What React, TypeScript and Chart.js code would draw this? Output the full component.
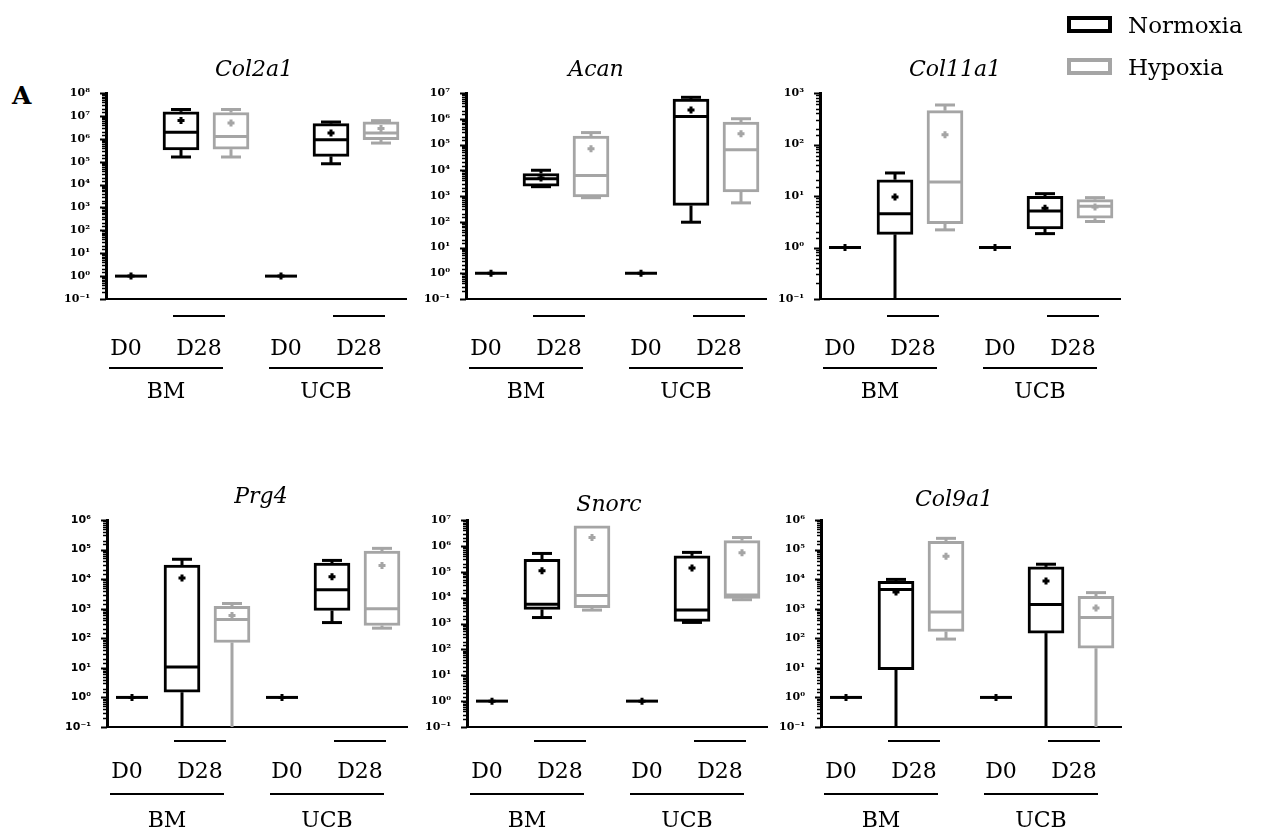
import React, { useEffect, useRef } from "react";
import { Chart, registerables } from "chart.js";

Chart.register(...registerables);

// ---------- categories ----------
const GENES = ["Col2a1", "Acan", "Col11a1", "Prg4", "Snorc", "Col9a1"];
const SOURCES = ["BM", "UCB"];
const DAYS = ["D0", "D28"];
const CONDITIONS = ["Normoxia", "Hypoxia"];
const SLOTS = ["BM D0", "BM D28 Normoxia", "BM D28 Hypoxia", "UCB D0", "UCB D28 Normoxia", "UCB D28 Hypoxia"];
const SLOT_DAY = ["D0", "D28", "D28", "D0", "D28", "D28"];
const SLOT_CONDITION = ["Normoxia", "Normoxia", "Hypoxia", "Normoxia", "Normoxia", "Hypoxia"];
const Y_MIN = 0.1;
const Y_MAX_EXP = [8, 7, 3, 6, 7, 6];

// ---------- values (relative expression) ----------
const col2a1Min = [1, 1.6e5, 1.6e5, 1, 8.1e4, 6.5e5];
const col2a1Q1 = [1, 3.3e5, 3.5e5, 1, 1.7e5, 9.1e5];
const col2a1Med = [1, 1.95e6, 1.26e6, 1, 9.1e5, 1.8e6];
const col2a1Q3 = [1, 1.5e7, 1.4e7, 1, 4.6e6, 5.5e6];
const col2a1Max = [1, 1.9e7, 1.9e7, 1, 5.4e6, 6.2e6];
const col2a1Mean = [1, 6.3e6, 4.9e6, 1, 1.8e6, 2.8e6];

const acanMin = [1, 2.3e3, 8.6e2, 1, 96, 5.4e2];
const acanQ1 = [1, 2.4e3, 9.3e2, 1, 4.3e2, 1.45e3];
const acanMed = [1, 4.7e3, 6.2e3, 1, 1.23e6, 6.2e4];
const acanQ3 = [1, 7.5e3, 2.1e5, 1, 5.8e6, 7.4e5];
const acanMax = [1, 1.0e4, 2.9e5, 1, 6.8e6, 1.0e6];
const acanMean = [1, 5.0e3, 6.9e4, 1, 2.2e6, 2.6e5];

const col11a1Min = [1, 0.1, 2.2, 1, 1.86, 3.2];
const col11a1Q1 = [1, 1.8, 2.9, 1, 2.3, 3.7];
const col11a1Med = [1, 4.5, 18.7, 1, 5.1, 6.3];
const col11a1Q3 = [1, 20.7, 454, 1, 9.9, 8.5];
const col11a1Max = [1, 28, 585, 1, 11.1, 9.3];
const col11a1Mean = [1, 9.6, 155, 1, 5.8, 6.1];

const prg4Min = [1, 0.1, 0.1, 1, 3.4e2, 2.2e2];
const prg4Q1 = [1, 1.5, 72, 1, 8.7e2, 2.7e2];
const prg4Med = [1, 10.7, 4.3e2, 1, 4.4e3, 1.0e3];
const prg4Q3 = [1, 3.0e4, 1.2e3, 1, 3.5e4, 8.9e4];
const prg4Max = [1, 4.7e4, 1.5e3, 1, 4.3e4, 1.1e5];
const prg4Mean = [1, 1.1e4, 5.9e2, 1, 1.2e4, 2.9e4];

const snorcMin = [1, 1.7e3, 3.3e3, 1, 1.1e3, 8.3e3];
const snorcQ1 = [1, 3.5e3, 4.1e3, 1, 1.2e3, 9.3e3];
const snorcMed = [1, 5.6e3, 1.2e4, 1, 3.3e3, 1.26e4];
const snorcQ3 = [1, 3.0e5, 6.0e6, 1, 4.1e5, 1.6e6];
const snorcMax = [1, 5.1e5, 6.0e6, 1, 5.6e5, 2.1e6];
const snorcMean = [1, 1.1e5, 2.1e6, 1, 1.4e5, 5.4e5];

const col9a1Min = [1, 0.1, 94, 1, 0.1, 0.1];
const col9a1Q1 = [1, 8.7, 1.7e2, 1, 1.5e2, 46];
const col9a1Med = [1, 4.5e3, 7.8e2, 1, 1.4e3, 5.0e2];
const col9a1Q3 = [1, 8.5e3, 1.9e5, 1, 2.6e4, 2.6e3];
const col9a1Max = [1, 9.8e3, 2.4e5, 1, 3.2e4, 3.5e3];
const col9a1Mean = [1, 3.7e3, 5.9e4, 1, 8.7e3, 1.05e3];

const STATS = [
  { min: col2a1Min, q1: col2a1Q1, med: col2a1Med, q3: col2a1Q3, max: col2a1Max, mean: col2a1Mean },
  { min: acanMin, q1: acanQ1, med: acanMed, q3: acanQ3, max: acanMax, mean: acanMean },
  { min: col11a1Min, q1: col11a1Q1, med: col11a1Med, q3: col11a1Q3, max: col11a1Max, mean: col11a1Mean },
  { min: prg4Min, q1: prg4Q1, med: prg4Med, q3: prg4Q3, max: prg4Max, mean: prg4Mean },
  { min: snorcMin, q1: snorcQ1, med: snorcMed, q3: snorcQ3, max: snorcMax, mean: snorcMean },
  { min: col9a1Min, q1: col9a1Q1, med: col9a1Med, q3: col9a1Q3, max: col9a1Max, mean: col9a1Mean },
];

// ---------- styling / layout ----------
const BLACK = "#000000";
const GRAY = "#a5a5a5";
const SERIF = '"DejaVu Serif", serif';
const SANS = '"DejaVu Sans", sans-serif';
const CANVAS_W = 370;
const Y_AXIS_W = 60;

const ROW_LAYOUT = [
  { top: 40, height: 370, chartTop: 93, chartBottom: 299, shortLine: 17, dayText: 56, longLine: 69, groupText: 99 },
  { top: 465, height: 371, chartTop: 520, chartBottom: 727, shortLine: 14, dayText: 51, longLine: 67, groupText: 100 },
];
const PANEL_LAYOUT = [
  { row: 0, left: 46, titleDx: -2, titleDy: -17, tickFont: SERIF },
  { row: 0, left: 406, titleDx: -20, titleDy: -17, tickFont: SERIF },
  { row: 0, left: 760, titleDx: -15, titleDy: -17, tickFont: SERIF },
  { row: 1, left: 47, titleDx: 4, titleDy: -17, tickFont: SANS },
  { row: 1, left: 407, titleDx: -8, titleDy: -9, tickFont: SERIF },
  { row: 1, left: 761, titleDx: -17, titleDy: -14, tickFont: SERIF },
];

const SUP: Record<string, string> = {
  "-": "\u207B", "0": "\u2070", "1": "\u00B9", "2": "\u00B2", "3": "\u00B3",
  "4": "\u2074", "5": "\u2075", "6": "\u2076", "7": "\u2077", "8": "\u2078", "9": "\u2079",
};
function powerLabel(v: number): string {
  const e = Math.log10(v);
  const r = Math.round(e);
  if (Math.abs(e - r) > 1e-6) return "";
  return "10" + String(r).split("").map((c) => SUP[c]).join("");
}
function isPower(v: number) {
  const e = Math.log10(v);
  return Math.abs(e - Math.round(e)) < 1e-6;
}

const slotColor = (i: number) => (SLOT_CONDITION[i] === "Hypoxia" ? GRAY : BLACK);

// whiskers, medians and D0 lines drawn through the scales
const boxPlugin = {
  id: "boxWhiskers",
  afterDatasetDraw(chart: any, args: any, opts: any) {
    if (args.index !== 1) return;
    const st = opts.stats;
    const { ctx, chartArea: ca, scales } = chart;
    const x = scales.x, y = scales.y;
    ctx.save();
    ctx.beginPath();
    ctx.rect(ca.left, ca.top - 6, ca.right - ca.left, ca.bottom - ca.top + 6);
    ctx.clip();
    ctx.lineWidth = 3;
    ctx.lineCap = "butt";
    SLOTS.forEach((_, i) => {
      const cx = x.getPixelForValue(i);
      ctx.strokeStyle = slotColor(i);
      const py = (v: number) => y.getPixelForValue(Math.max(v, Y_MIN));
      const seg = (x0: number, y0: number, x1: number, y1: number) => {
        ctx.beginPath();
        ctx.moveTo(x0, y0);
        ctx.lineTo(x1, y1);
        ctx.stroke();
      };
      if (SLOT_DAY[i] === "D0") {
        seg(cx - 16, py(st.med[i]), cx + 16, py(st.med[i]));
        return;
      }
      // upper whisker
      if (st.max[i] > st.q3[i]) {
        seg(cx, py(st.q3[i]), cx, py(st.max[i]));
        seg(cx - 10, py(st.max[i]), cx + 10, py(st.max[i]));
      }
      // lower whisker
      if (st.min[i] < st.q1[i]) {
        seg(cx, py(st.q1[i]), cx, py(st.min[i]));
        if (st.min[i] > Y_MIN) seg(cx - 10, py(st.min[i]), cx + 10, py(st.min[i]));
      }
      // median
      seg(cx - 18, py(st.med[i]), cx + 18, py(st.med[i]));
    });
    ctx.restore();
  },
};

// log axis tick marks (major longer than minor)
const tickPlugin = {
  id: "logTicks",
  afterDraw(chart: any) {
    const { ctx, chartArea: ca, scales } = chart;
    const y = scales.y;
    ctx.save();
    ctx.strokeStyle = BLACK;
    y.ticks.forEach((t: any) => {
      const py = y.getPixelForValue(t.value);
      const major = isPower(t.value);
      ctx.lineWidth = major ? 2 : 1.5;
      ctx.beginPath();
      ctx.moveTo(ca.left - (major ? 6 : 4), Math.round(py) + 0.5);
      ctx.lineTo(ca.left, Math.round(py) + 0.5);
      ctx.stroke();
    });
    ctx.restore();
  },
};

// group labels under the x axis and the gene title
const labelPlugin = {
  id: "groupLabels",
  afterDraw(chart: any, _args: any, opts: any) {
    const { ctx, chartArea: ca, scales } = chart;
    const x = scales.x;
    const r = opts.row;
    ctx.save();
    ctx.fillStyle = BLACK;
    ctx.strokeStyle = BLACK;
    ctx.lineWidth = 2;
    ctx.textAlign = "center";
    ctx.textBaseline = "alphabetic";
    ctx.font = `22px ${SERIF}`;
    const hline = (x0: number, x1: number, yy: number) => {
      ctx.beginPath();
      ctx.moveTo(x0, yy);
      ctx.lineTo(x1, yy);
      ctx.stroke();
    };
    SOURCES.forEach((src, g) => {
      const a = g * 3;
      const s = g === 0 ? -5 : 5;
      const xD0 = x.getPixelForValue(a) + s;
      const xD28 = (x.getPixelForValue(a + 1) + x.getPixelForValue(a + 2)) / 2 + s - 2;
      hline(xD28 - 26, xD28 + 26, ca.bottom + r.shortLine);
      ctx.fillText(DAYS[0], xD0, ca.bottom + r.dayText);
      ctx.fillText(DAYS[1], xD28, ca.bottom + r.dayText);
      const l0 = xD0 - 17;
      const l1 = xD28 + 24;
      hline(l0, l1, ca.bottom + r.longLine);
      ctx.fillText(src, (l0 + l1) / 2, ca.bottom + r.groupText);
    });
    ctx.font = `italic 22px ${SERIF}`;
    ctx.fillText(opts.title, (ca.left + ca.right) / 2 + opts.titleDx, ca.top + opts.titleDy);
    ctx.restore();
  },
};

function Panel({ idx }: { idx: number }) {
  const ref = useRef<HTMLCanvasElement>(null);
  const p = PANEL_LAYOUT[idx];
  const r = ROW_LAYOUT[p.row];
  useEffect(() => {
    if (!ref.current) return;
    const st = STATS[idx];
    const colors = SLOTS.map((_, i) => slotColor(i));
    const boxes = SLOTS.map((_, i) => (SLOT_DAY[i] === "D0" ? null : [st.q1[i], st.q3[i]]));
    const chart = new Chart(ref.current, {
      type: "bar",
      data: {
        labels: SLOTS,
        datasets: [
          {
            type: "line",
            label: "mean",
            data: st.mean,
            showLine: false,
            pointStyle: "cross",
            pointRadius: 3.5,
            pointBorderWidth: 3,
            pointBorderColor: colors,
            pointBackgroundColor: colors,
            order: 0,
          } as any,
          {
            type: "bar",
            label: "box",
            data: boxes as any,
            backgroundColor: "#ffffff",
            borderColor: colors,
            borderWidth: 3,
            borderSkipped: false,
            barThickness: 36,
            order: 1,
          } as any,
        ],
      },
      options: {
        animation: false,
        responsive: false,
        maintainAspectRatio: false,
        events: [],
        layout: {
          padding: {
            top: r.chartTop - r.top,
            bottom: r.height - (r.chartBottom - r.top),
            left: 0,
            right: CANVAS_W - Y_AXIS_W - 300,
          },
        },
        plugins: {
          legend: { display: false },
          tooltip: { enabled: false },
          title: { display: false },
          boxWhiskers: { stats: st },
          groupLabels: { row: r, title: GENES[idx], titleDx: p.titleDx, titleDy: p.titleDy },
        } as any,
        scales: {
          x: {
            type: "category",
            offset: true,
            grid: { display: false },
            ticks: { display: false },
            border: { display: true, width: 2, color: BLACK },
            afterFit: (s: any) => {
              s.height = 0;
            },
          },
          y: {
            type: "logarithmic",
            min: Y_MIN,
            max: Math.pow(10, Y_MAX_EXP[idx]),
            grid: { display: false },
            border: { display: true, width: 3, color: BLACK },
            ticks: {
              autoSkip: false,
              padding: 8,
              color: BLACK,
              font: { family: p.tickFont, size: 11, weight: "bold" },
              callback: (v: any) => powerLabel(Number(v)),
            },
            afterFit: (s: any) => {
              s.width = Y_AXIS_W;
            },
          },
        } as any,
      },
      plugins: [boxPlugin, tickPlugin, labelPlugin],
    });
    return () => chart.destroy();
  }, [idx]);
  return (
    <canvas
      ref={ref}
      width={CANVAS_W}
      height={r.height}
      style={{ position: "absolute", left: p.left, top: r.top, width: CANVAS_W, height: r.height }}
    />
  );
}

export default function App() {
  const legendText: React.CSSProperties = {
    position: "absolute",
    left: 1128,
    fontFamily: SERIF,
    fontSize: 23,
    lineHeight: "23px",
    color: BLACK,
    whiteSpace: "nowrap",
  };
  const legendBox = (color: string, top: number): React.CSSProperties => ({
    position: "absolute",
    left: 1067,
    top,
    width: 45,
    height: 17,
    boxSizing: "border-box",
    border: `4px solid ${color}`,
    background: "#fff",
  });
  return (
    <div style={{ position: "absolute", left: 0, top: 0, width: 1263, height: 836, overflow: "hidden", background: "#fff" }}>
      {GENES.map((g, i) => (
        <Panel key={g} idx={i} />
      ))}
      <div
        style={{
          position: "absolute",
          left: 12,
          top: 83,
          fontFamily: SERIF,
          fontWeight: "bold",
          fontSize: 25,
          lineHeight: "25px",
        }}
      >
        A
      </div>
      <div style={legendBox(BLACK, 16)} />
      <div style={{ ...legendText, top: 14 }}>{CONDITIONS[0]}</div>
      <div style={legendBox(GRAY, 58)} />
      <div style={{ ...legendText, top: 56 }}>{CONDITIONS[1]}</div>
    </div>
  );
}
